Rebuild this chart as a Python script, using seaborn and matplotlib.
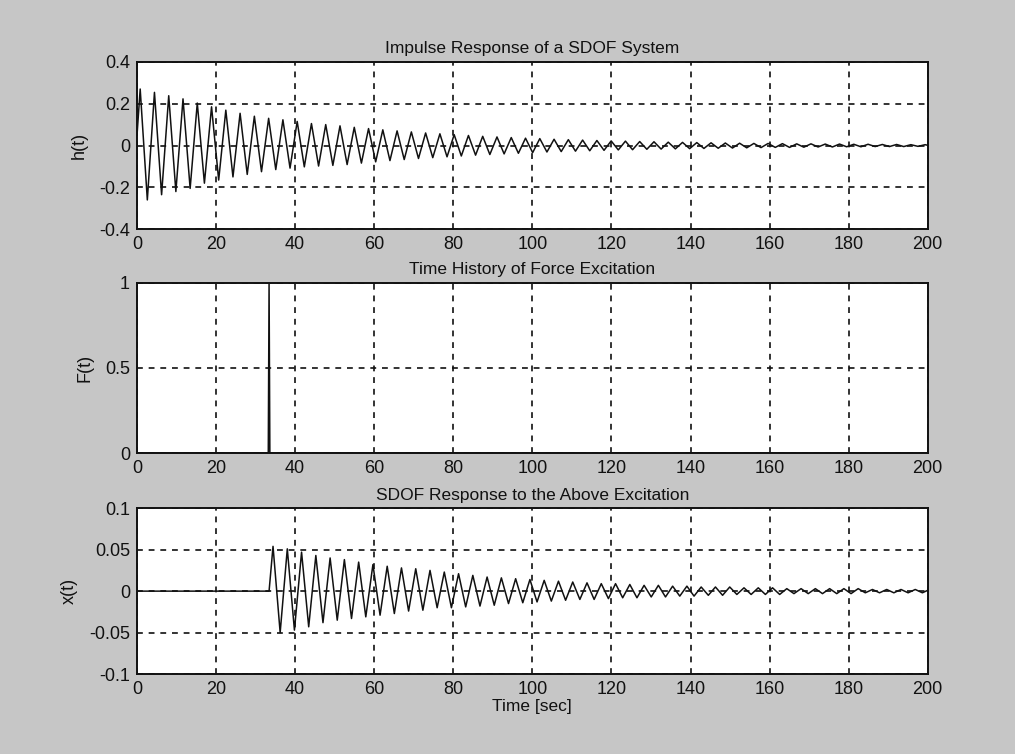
import numpy as np
import pandas as pd
import matplotlib
matplotlib.use("Agg")
import matplotlib.pyplot as plt
import seaborn as sns

# ---- values ----
# impulse response h(t): value at t=0, then successive peaks/troughs
h_start = 0.05
h_first_peak_t = 0.8          # sec
half_period = 1.805           # sec between a peak and the next trough
h_ext = [0.270, -0.260, 0.254, -0.235, 0.238, -0.220, 0.223, -0.205, 0.203, -0.180,
         0.185, -0.165, 0.169, -0.150, 0.154, -0.138, 0.140, -0.125, 0.130, -0.115,
         0.123, -0.108, 0.115, -0.102, 0.105, -0.098, 0.100, -0.095, 0.094, -0.091,
         0.087, -0.084, 0.081, -0.078, 0.075, -0.072, 0.070, -0.067, 0.065, -0.062,
         0.060, -0.058, 0.056, -0.054, 0.052, -0.050, 0.048, -0.046, 0.044, -0.043,
         0.041, -0.040, 0.038, -0.037, 0.035, -0.034, 0.033, -0.031, 0.030, -0.029,
         0.028, -0.027, 0.026, -0.025, 0.024, -0.023, 0.022, -0.021, 0.021, -0.020,
         0.019, -0.018, 0.018, -0.017, 0.016, -0.016, 0.015, -0.015, 0.014, -0.014,
         0.013, -0.013, 0.012, -0.012, 0.011, -0.011, 0.010, -0.010, 0.010, -0.009,
         0.009, -0.009, 0.008, -0.008, 0.008, -0.007, 0.007, -0.007, 0.007, -0.006,
         0.006, -0.006, 0.006, -0.005, 0.005, -0.005, 0.005, -0.005, 0.004, -0.004,
         0.004, -0.004]

# force excitation F(t): a single pulse
f_t = [0, 33.2, 33.4, 33.6, 200]
f_v = [0, 0, 1, 0, 0]

# response x(t): zero until the pulse, then peaks/troughs
x_onset_t = 33.4
x_first_peak_t = 34.4
x_ext = [0.054, -0.050, 0.051, -0.047, 0.047, -0.043, 0.043, -0.038, 0.040, -0.035,
         0.038, -0.033, 0.035, -0.031, 0.032, -0.029, 0.030, -0.027, 0.028, -0.024,
         0.027, -0.023, 0.025, -0.020, 0.023, -0.020, 0.021, -0.019, 0.019, -0.018,
         0.017, -0.017, 0.016, -0.015, 0.015, -0.014, 0.014, -0.013, 0.013, -0.012,
         0.012, -0.011, 0.011, -0.010, 0.010, -0.010, 0.009, -0.009, 0.009, -0.008,
         0.008, -0.008, 0.007, -0.007, 0.007, -0.007, 0.006, -0.006, 0.006, -0.006,
         0.005, -0.005, 0.005, -0.005, 0.005, -0.004, 0.004, -0.004, 0.004, -0.004,
         0.004, -0.004, 0.003, -0.003, 0.003, -0.003, 0.003, -0.003, 0.003, -0.003,
         0.003, -0.003, 0.003, -0.002, 0.002, -0.002, 0.002, -0.002, 0.002, -0.002,
         0.002, -0.002, 0.002]

x_ticks = list(range(0, 201, 20))
h_yticks = [-0.4, -0.2, 0, 0.2, 0.4]
h_ylabels = ["-0.4", "-0.2", "0", "0.2", "0.4"]
f_yticks = [0, 0.5, 1]
f_ylabels = ["0", "0.5", "1"]
x_yticks = [-0.1, -0.05, 0, 0.05, 0.1]
x_ylabels = ["-0.1", "-0.05", "0", "0.05", "0.1"]

# ---- build tables ----
h_times = h_first_peak_t + half_period * np.arange(len(h_ext))
df_h = pd.DataFrame({"t": np.r_[0.0, h_times], "v": np.r_[h_start, h_ext]})
df_f = pd.DataFrame({"t": f_t, "v": f_v})
x_times = x_first_peak_t + half_period * np.arange(len(x_ext))
df_x = pd.DataFrame({"t": np.r_[0.0, x_onset_t, x_times], "v": np.r_[0.0, 0.0, x_ext]})

sns.set_theme(style="white")
plt.rcParams["font.family"] = ["Liberation Sans", "DejaVu Sans"]

bg = "#c6c6c6"
fig = plt.figure(figsize=(10.15, 7.54), dpi=100, facecolor=bg)

boxes = [[0.135, 0.696, 0.779, 0.222],
         [0.135, 0.399, 0.779, 0.226],
         [0.135, 0.106, 0.779, 0.220]]

panels = [
    (df_h, "Impulse Response of a SDOF System", "h(t)", (-0.4, 0.4), h_yticks, h_ylabels),
    (df_f, "Time History of Force Excitation", "F(t)", (0, 1), f_yticks, f_ylabels),
    (df_x, "SDOF Response to the Above Excitation", "x(t)", (-0.1, 0.1), x_yticks, x_ylabels),
]

for box, (df, title, ylab, ylim, yt, ytl) in zip(boxes, panels):
    ax = fig.add_axes(box)
    ax.set_facecolor("white")
    sns.lineplot(data=df, x="t", y="v", ax=ax, color="#111111", linewidth=1.1,
                 estimator=None, sort=False)
    ax.set_xlim(0, 200)
    ax.set_ylim(*ylim)
    ax.set_xticks(x_ticks)
    ax.set_xticklabels([str(v) for v in x_ticks])
    ax.set_yticks(yt)
    ax.set_yticklabels(ytl)
    ax.grid(True, color="#111111", linestyle=(0, (3.5, 3.5)), linewidth=1.2)
    ax.tick_params(direction="in", length=3, width=1, colors="#111111",
                   labelsize=13, pad=5)
    for s in ax.spines.values():
        s.set_visible(True)
        s.set_color("#111111")
        s.set_linewidth(1.4)
    ax.set_title(title, fontsize=12.5, color="#111111", pad=6)
    ax.set_ylabel(ylab, fontsize=13, color="#111111", labelpad=8)
    ax.set_xlabel("")

ax.set_xlabel("Time [sec]", fontsize=12.5, color="#111111", labelpad=1)

fig.savefig("out.png", dpi=100, facecolor=bg)
